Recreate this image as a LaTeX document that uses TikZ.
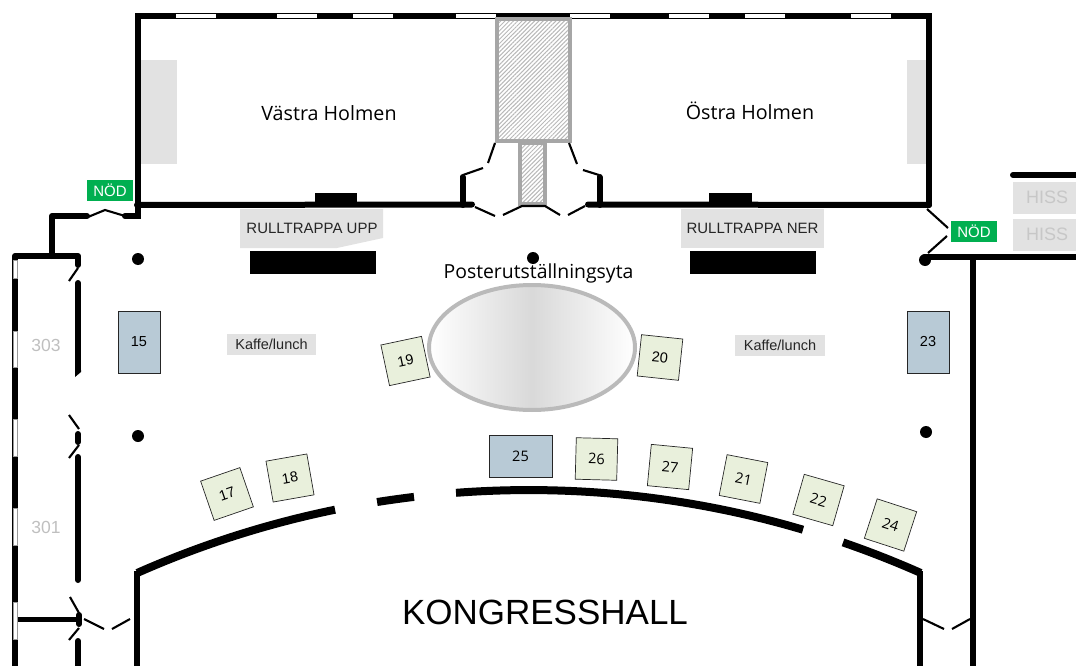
\documentclass[tikz,border=0pt]{standalone}
\usepackage{fontspec}
\setmainfont{Liberation Sans}
\newfontfamily\roomfont{Open Sans}
\usetikzlibrary{patterns.meta}
\definecolor{boothgreen}{HTML}{E9F0DC}
\definecolor{boothblue}{HTML}{B8CAD6}
\definecolor{exitgreen}{HTML}{00AF50}
\definecolor{panelgray}{HTML}{E2E2E2}
\tikzset{
    wall/.style={ % Thick outer and inner walls
        draw=black,
        line width=6pt,
        line cap=round,
        line join=miter
    },
    hallwall/.style={draw=black, line width=8pt, line cap=butt},
    door/.style={draw=black, line width=2.1pt},
    window/.style={draw=black, line width=0.6pt, fill=white},
    booth/.style={ % Square exhibitor booths
        draw=black!85,
        line width=0.7pt,
        fill=boothgreen,
        minimum size=41.5pt,
        inner sep=0pt,
        font=\fontsize{14.5}{14.5}\selectfont
    },
    openbooth/.style={booth, font=\roomfont\fontsize{14.5}{14.5}\selectfont},
    bluebooth/.style={booth, fill=boothblue},
    panel/.style={fill=panelgray, text=black!85, inner sep=0pt, font=\fontsize{14.5}{14.5}\selectfont},
    stairlabel/.style={panel, font=\fontsize{15}{15}\selectfont},
    exitsign/.style={fill=exitgreen, text=white, minimum width=46pt, minimum height=21pt, inner sep=0pt, font=\fontsize{15}{15}\selectfont},
    lift/.style={fill=panelgray, text=black!22, minimum width=68pt, minimum height=32pt, inner sep=0pt, font=\fontsize{18}{18}\selectfont},
    roomno/.style={text=black!25, font=\fontsize{17.5}{17.5}\selectfont},
    pillar/.style={circle, fill=black, minimum size=12pt, inner sep=0pt},
    stair/.style={fill=black, draw=none},
    lobby/.style={draw=black!35, line width=4pt, pattern={Lines[angle=45,distance=3pt,line width=1pt]}, pattern color=black!28}
}
\begin{document}
\begin{tikzpicture}[x=1pt,y=-1pt]
    \useasboundingbox (0,0) rectangle (1076,666);

    % side panels
    \fill[panelgray] (141,60) rectangle (177,164);
    \fill[panelgray] (907,60) rectangle (927,164);

    % upper rooms
    \draw[wall] (137.5,208) -- (137.5,16) -- (929,16) -- (929,205);
    \draw[wall] (137,205) -- (472,204.5);
    \draw[wall] (588,204.5) -- (929,205);
    \draw[wall] (462.5,205) -- (462.5,177);
    \draw[wall] (599.5,205) -- (599.5,177);
    \foreach \xa/\xb in {175/216,276/317,352/393,455/496,569/610,668/709,744/785,850/891}
        \draw[window] (\xa,13) rectangle (\xb,18.5);

    % lobby between the rooms
    \draw[lobby] (497,19) rectangle (570,141);
    \draw[lobby] (520,143) rectangle (545,204);
    \draw[door] (463,175) -- (483,168);
    \draw[door] (488,163) -- (495,143);
    \draw[door] (569,143) -- (577,164);
    \draw[door] (583,170) -- (599,175);
    \draw[door] (475,207) -- (495,216);
    \draw[door] (503,215) -- (522,206) -- (545,206) -- (560,215);
    \draw[door] (568,215) -- (585,206);

    % escalators
    \fill[stair] (315,193) rectangle (357,205);
    \fill[stair] (709,193) rectangle (752,205);
    \fill[stair] (250,251) rectangle (376,274);
    \fill[stair] (690,251) rectangle (816,274);

    % left corridor
    \draw[wall] (125,216) -- (137.5,216) -- (137.5,205);
    \draw[door] (88,217) -- (105,210) -- (125,216);
    \draw[wall, line join=round] (87,216) -- (52,216) -- (52,256);
    \draw[wall, line join=round] (15,666) -- (15,256) -- (78,256) -- (78,265);
    \draw[door] (78,268) -- (69,281);
    \draw[wall] (78,283) -- (78,370);
    \fill (75,370) -- (81,370) -- (81,372) -- (75,377) -- cycle;
    \draw[wall] (78,434) -- (78,442);
    \draw[door] (69,415) -- (79,429);
    \draw[door] (79,445) -- (69,458);
    \draw[wall] (78,457) -- (78,580);
    \draw[door] (70,597) -- (79,613);
    \draw[door] (79,628) -- (69,640);
    \draw[wall] (79,615) -- (79,624);
    \draw[wall] (78,641) -- (78,666);
    \draw[wall, line width=5pt, line cap=butt] (17,619) -- (78,619);
    \draw[door] (84,619) -- (104,629);
    \draw[door] (112,629) -- (130,619);
    \foreach \ya/\yb in {260/278,331/367,419/456,508/545,602/639}
        \draw[fill=white, draw=black!40, line width=0.5pt] (13,\ya) rectangle (17,\yb);

    % right corridor
    \draw[door] (927,209) -- (948,228);
    \draw[door] (947,236) -- (928,253);
    \draw[wall] (925,256.5) -- (1080,256.5);
    \draw[wall] (973,257) -- (973,670);
    \draw[wall] (1013,175) -- (1080,175);

    % congress hall
    \coordinate (hallc) at (529,1457);
    \draw[wall, line cap=butt] (137,670) -- (137,571);
    \draw[wall, line cap=butt] (920,670) -- (920,571);
    \draw[hallwall] (hallc) ++(-113.9:967) arc[start angle=-113.9, end angle=-101.57, radius=967];
    \draw[hallwall] (hallc) ++(-99.04:967) arc[start angle=-99.04, end angle=-96.83, radius=967];
    \draw[hallwall] (hallc) ++(-94.33:967) arc[start angle=-94.33, end angle=-73.54, radius=967];
    \draw[hallwall] (hallc) ++(-71.05:967) arc[start angle=-71.05, end angle=-66.1, radius=967];
    \draw[door] (923,619) -- (944,629);
    \draw[door] (952,629) -- (970,619);

    % poster area
    \shade[left color=white, right color=white, middle color=black!15] (532,347.5) ellipse [x radius=103, y radius=62.5];
    \draw[draw=black!27, line width=4pt] (532,347.5) ellipse [x radius=103, y radius=62.5];

    % pillars
    \node[pillar] (p1) at (138,259) {};
    \node[pillar] (p2) at (533,258) {};
    \node[pillar] (p3) at (925,260) {};
    \node[pillar] (p4) at (138,436) {};
    \node[pillar] (p5) at (926,432) {};

    % booths
    \node[bluebooth, minimum width=42pt, minimum height=62pt] (b15) at (139,342) {15};
    \node[bluebooth, minimum width=42pt, minimum height=62pt] (b23) at (928,342) {23};
    \node[bluebooth, openbooth, fill=boothblue, minimum width=63pt, minimum height=42pt] (b25) at (520.5,456) {25};
    \node[booth, rotate=19] (b17) at (227,494) {17};
    \node[booth, rotate=10] (b18) at (290,478) {18};
    \node[booth, rotate=12] (b19) at (405.5,361) {19};
    \node[booth, rotate=-6] (b20) at (660,357.5) {20};
    \node[openbooth, rotate=-1.5] (b26) at (596.5,459) {26};
    \node[openbooth, rotate=-5.5] (b27) at (670,467) {27};
    \node[openbooth, rotate=-11] (b21) at (743.5,479) {21};
    \node[openbooth, rotate=-16] (b22) at (818.5,500) {22};
    \node[openbooth, rotate=-18] (b24) at (890.5,525) {24};

    % labels
    \fill[panelgray] (240,209) -- (383,209) -- (383,238) -- (337,248) -- (240,248) -- cycle;
    \node[stairlabel, fill=none] (upp) at (312,228) {RULLTRAPPA UPP};
    \node[stairlabel, minimum width=143pt, minimum height=39pt] (ner) at (752.5,228.5) {RULLTRAPPA NER};
    \node[panel, minimum width=89pt, minimum height=21pt] (kaffe1) at (271.5,344.5) {Kaffe/lunch};
    \node[panel, minimum width=90pt, minimum height=21pt] (kaffe2) at (780,345.5) {Kaffe/lunch};
    \node[exitsign] (nod1) at (110,190.5) {NÖD};
    \node[exitsign] (nod2) at (974,231.5) {NÖD};
    \node[lift] (hiss1) at (1047,197.5) {HISS};
    \node[lift] (hiss2) at (1047,234.5) {HISS};
    \node[roomno] (r303) at (46,345) {303};
    \node[roomno] (r301) at (46,527) {301};
    \node[font=\roomfont\fontsize{19.7}{19.7}\selectfont] (vastra) at (329,113) {Västra Holmen};
    \node[font=\roomfont\fontsize{19.7}{19.7}\selectfont] (ostra) at (750,111) {Östra Holmen};
    \node[font=\roomfont\fontsize{19.4}{19.4}\selectfont] (poster) at (538.5,273) {Posterutställningsyta};
    \node[font=\fontsize{35}{35}\selectfont] (hall) at (545,612) {KONGRESSHALL};
\end{tikzpicture}
\end{document}
